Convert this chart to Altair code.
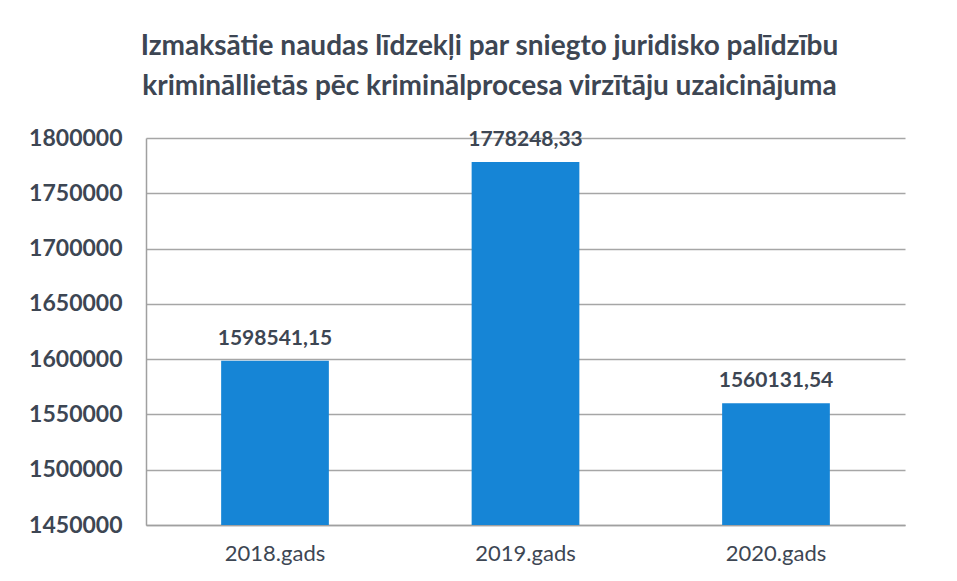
import altair as alt
import pandas as pd

years = ["2018.gads", "2019.gads", "2020.gads"]
amounts = [1598541.15, 1778248.33, 1560131.54]
y_ticks = [1450000, 1500000, 1550000, 1600000, 1650000, 1700000, 1750000, 1800000]
title_lines = [
    "Izmaksātie naudas līdzekļi par sniegto juridisko palīdzību",
    "krimināllietās pēc kriminālprocesa virzītāju uzaicinājuma",
]

df = pd.DataFrame({
    "year": years,
    "amount": amounts,
    "label": [f"{v:.2f}".replace(".", ",") for v in amounts],
})

TXT = "#3d4653"
FONT = "Lato"

base = alt.Chart(df).encode(
    x=alt.X("year:N", sort=years, title=None,
            scale=alt.Scale(paddingInner=0.57, paddingOuter=0.3),
            axis=alt.Axis(labelAngle=0, ticks=False, labelPadding=18,
                          labelFontSize=22, labelColor=TXT, labelFont=FONT,
                          domainColor="#a0a0a0", domainWidth=1.5)),
)

bars = base.mark_bar(color="#1685d6", clip=True).encode(
    y=alt.Y("amount:Q", title=None,
            scale=alt.Scale(domain=[1450000, 1800000], nice=False, zero=False),
            axis=alt.Axis(values=y_ticks, format="d", ticks=False,
                          labelPadding=24, labelFontSize=23, labelFontWeight="bold",
                          labelColor=TXT, labelFont=FONT,
                          gridColor="#a6a6a6", gridWidth=1.5,
                          domainColor="#a0a0a0", domainWidth=1.5)),
)

labels = base.mark_text(dy=-22, fontSize=21, fontWeight="bold", color=TXT, font=FONT).encode(
    y="amount:Q",
    text="label:N",
)

chart = (bars + labels).properties(
    width=759,
    height=387,
    autosize=alt.AutoSizeParams(type="none"),
    padding={"left": 138, "top": 130, "right": 44, "bottom": 50},
    title=alt.TitleParams(title_lines, anchor="middle", frame="group", dx=-36,
                          fontSize=28, fontWeight="bold", font=FONT, color=TXT,
                          lineHeight=40, offset=26),
).configure_view(stroke=None)

chart.save("out.html", embed_options={"renderer": "svg", "actions": False})
